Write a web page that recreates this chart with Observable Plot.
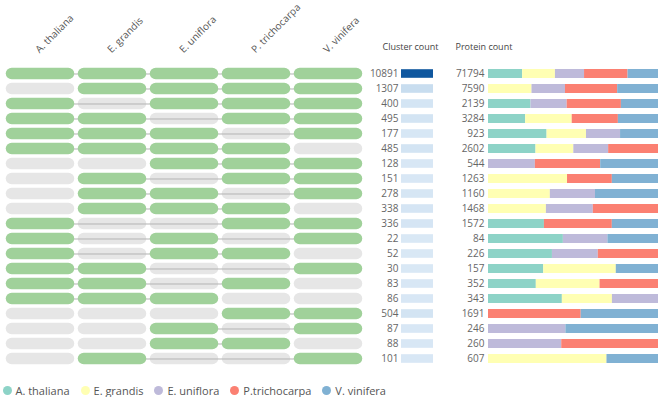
<!DOCTYPE html>
<html>
<head>
<meta charset="utf-8">
<script src="https://cdn.jsdelivr.net/npm/d3@7"></script>
<script src="https://cdn.jsdelivr.net/npm/@observablehq/plot@0.6"></script>
<style>
  body { margin: 0; background: #fff; font-family: "Open Sans", sans-serif; }
  #chart { width: 660px; }
  #panels { display: flex; }
  #panels svg { display: block; }
  #legend .sp-swatches-wrap { min-height: 0; height: 14px; margin: 7px 0 0 2.5px; }
  #legend .sp-swatches-wrap .sp-swatch { margin-right: 11px; }
  #legend .sp-swatch > svg { margin-right: 4px; }
</style>
</head>
<body>
<div id="chart">
  <div id="panels"></div>
  <div id="legend"></div>
</div>
<script>
// Species (column headers) and the names used in the legend
const species = ["A. thaliana", "E. grandis", "E. uniflora", "P. trichocarpa", "V. vinifera"];
const legendLabels = ["A. thaliana", "E. grandis", "E. uniflora", "P.trichocarpa", "V. vinifera"];

// Number of orthologous clusters shared by each species combination (one per row)
const clusterCounts = [10891, 1307, 400, 495, 177, 485, 128, 151, 278, 338, 336, 22, 52, 30, 83, 86, 504, 87, 88, 101];

// Proteins contributed by each species to each row's clusters (0 = species absent)
const athaliana    = [14416,    0, 535, 718, 318, 727,   0,   0,   0,   0, 517, 37, 85, 51,  99, 149,   0,   0,   0,   0];
const egrandis     = [13850, 1942,   0, 899, 214, 579,   0, 587, 422, 500,   0,  0,  0, 67, 132, 101,   0,   0,   0, 423];
const euniflora    = [12296, 1494, 455,   0, 185, 533, 150,   0, 308, 405,   0, 22, 61,  0,   0,  93,   0, 112, 112,   0];
const ptrichocarpa = [18373, 2331, 682, 892,   0, 763, 209, 333,   0, 563, 628,  0, 80,  0, 121,   0, 922,   0, 148,   0];
const vvinifera    = [12859, 1823, 467, 775, 206,   0, 185, 343, 430,   0, 427, 25,  0, 39,   0,   0, 769, 134,   0, 184];

const proteinsBySpecies = [athaliana, egrandis, euniflora, ptrichocarpa, vvinifera];
const rowIds = clusterCounts.map((_, i) => i);

// One record per (row, species)
const cells = rowIds.flatMap(row =>
  species.map((sp, j) => ({row, species: sp, proteins: proteinsBySpecies[j][row]}))
);

// One record per row: cluster count, protein total, first/last species present
const rows = rowIds.map(row => {
  const own = cells.filter(c => c.row === row);
  const present = own.filter(c => c.proteins > 0);
  return {
    row,
    cluster: clusterCounts[row],
    total: d3.sum(own, c => c.proteins),
    first: present[0].species,
    last: present[present.length - 1].species
  };
});

const font = "'Open Sans', sans-serif";
const frame = {height: 376, marginTop: 57, marginBottom: 1};
const yScale = {domain: rowIds, padding: 0, axis: null};

// Presence matrix: green pill = species present, grey pill = absent
const matrix = Plot.plot({
  ...frame,
  width: 366, marginLeft: 2, marginRight: 0,
  style: {fontFamily: font, overflow: "visible"},
  x: {domain: species, padding: 0, axis: null},
  y: yScale,
  marks: [
    Plot.cell(cells.filter(c => c.proteins === 0), {
      x: "species", y: "row", fill: "#e6e6e6", rx: 6,
      insetTop: 1.8, insetBottom: 1.8, insetLeft: 1.75, insetRight: 1.75
    }),
    Plot.link(rows, {x1: "first", x2: "last", y1: "row", y2: "row", stroke: "#b3b3b3", strokeWidth: 1}),
    Plot.cell(cells.filter(c => c.proteins > 0), {
      x: "species", y: "row", fill: "#a0d19a", rx: 6,
      insetTop: 1.8, insetBottom: 1.8, insetLeft: 1.75, insetRight: 1.75
    }),
    Plot.text(species, {
      x: d => d, frameAnchor: "top", rotate: -45, textAnchor: "start", lineAnchor: "bottom",
      dx: -1, dy: -4, fontSize: 10, fill: "#555"
    })
  ]
});

// Cluster count column: number + tile shaded by count
const clusterPanel = Plot.plot({
  ...frame,
  width: 74, marginLeft: 35, marginRight: 7,
  style: {fontFamily: font, overflow: "visible"},
  y: yScale,
  color: {type: "linear", interpolate: t => d3.interpolateBlues(0.15 + 0.7 * t)},
  marks: [
    Plot.cell(rows, {y: "row", fill: "cluster", insetTop: 3.2, insetBottom: 3.2}),
    Plot.text(rows, {
      y: "row", text: d => String(d.cluster), frameAnchor: "left", textAnchor: "end",
      dx: -3, fontSize: 10, fill: "#666"
    }),
    Plot.text(["Cluster count"], {
      frameAnchor: "top-left", textAnchor: "start", dx: -19, dy: -14, fontSize: 9, fill: "#444"
    })
  ]
});

// Protein count column: total + normalized stacked bar of species shares
const proteinPanel = Plot.plot({
  ...frame,
  width: 220, marginLeft: 48, marginRight: 2,
  style: {fontFamily: font, overflow: "visible"},
  x: {axis: null},
  y: yScale,
  color: {domain: species, scheme: "set3"},
  marks: [
    Plot.barX(cells.filter(c => c.proteins > 0), Plot.stackX({
      x: "proteins", y: "row", fill: "species", offset: "normalize",
      insetTop: 3, insetBottom: 3
    })),
    Plot.text(rows, {
      y: "row", text: d => String(d.total), frameAnchor: "left", textAnchor: "end",
      dx: -4, fontSize: 10, fill: "#666"
    }),
    Plot.text(["Protein count"], {
      frameAnchor: "top-left", textAnchor: "start", dx: -33, dy: -14, fontSize: 9, fill: "#444"
    })
  ]
});

const panels = document.getElementById("panels");
panels.append(matrix, clusterPanel, proteinPanel);

const legend = proteinPanel.legend("color", {
  legend: "swatches",
  swatchSize: 9,
  className: "sp",
  tickFormat: d => legendLabels[species.indexOf(d)],
  style: {fontFamily: font, fontSize: "11px", color: "#555"}
});
legend.querySelectorAll("svg rect").forEach(r => { r.setAttribute("rx", 4.5); r.setAttribute("ry", 4.5); });
document.getElementById("legend").append(legend);
</script>
</body>
</html>
